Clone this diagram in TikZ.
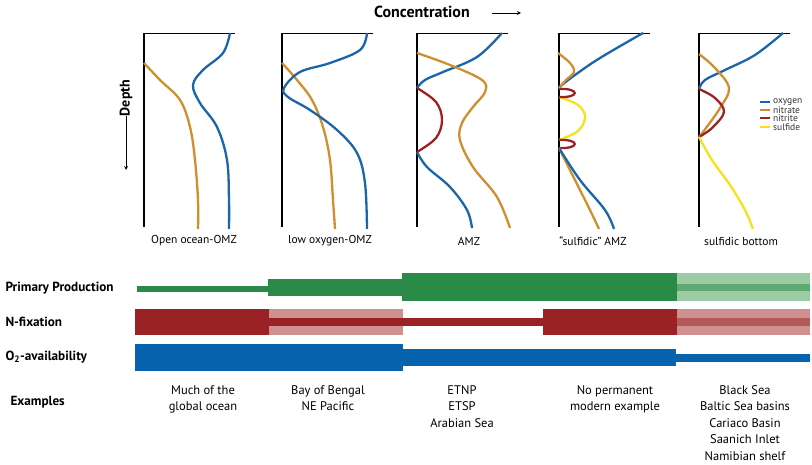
\documentclass[tikz,border=0pt]{standalone}
\usepackage{fontspec}
\setmainfont{PT Sans}
\begin{document}
\begin{tikzpicture}[x=1pt,y=-1pt,
  axisline/.style={line width=1.4pt,black},
  curve/.style={line width=2.3pt,smooth,tension=0.6},
  oxy/.style={curve,draw=oxyc},
  nitra/.style={curve,draw=nitrac},
  nitri/.style={curve,draw=nitric},
  sulf/.style={curve,draw=sulfc},
  plabel/.style={font=\fontsize{11.5}{13}\selectfont,anchor=center},
  rowlabel/.style={font=\fontsize{13.2}{15}\selectfont\bfseries,anchor=west},
  extext/.style={font=\fontsize{12.5}{16.5}\selectfont,align=center,anchor=north},
  legtext/.style={font=\fontsize{9.5}{10}\selectfont,anchor=west,inner sep=0pt,text=black!80}
]
\definecolor{oxyc}{HTML}{1B65AB}
\definecolor{nitrac}{HTML}{D08E2F}
\definecolor{nitric}{HTML}{9A2326}
\definecolor{sulfc}{HTML}{F7E11E}
\definecolor{gdark}{HTML}{2A8B48}
\definecolor{glight}{HTML}{9CCBA4}
\definecolor{gmid}{HTML}{5FA872}
\definecolor{rdark}{HTML}{9A2124}
\definecolor{rlight}{HTML}{D09090}
\definecolor{rmid}{HTML}{B35A5B}
\definecolor{bdark}{HTML}{0863AE}
\useasboundingbox (0,0) rectangle (812,465);

% header
\node[font=\fontsize{16}{18}\selectfont\bfseries] (conc) at (422,12) {Concentration};
\coordinate (ca) at (492,13);
\coordinate (cb) at (521,13);
\draw[-stealth,line width=0.8pt] (ca) -- (cb);
\node[font=\fontsize{14}{16}\selectfont\bfseries,rotate=90] (depth) at (126,98) {Depth};
\coordinate (da) at (126,116);
\coordinate (db) at (126,170);
\draw[-stealth,line width=0.8pt] (da) -- (db);

% axes
\foreach \x/\n in {144/1,282/2,417/3,559/4,699/5}{
  \draw[axisline] (\x+91,33.5) -- (\x,33.5) -- (\x,227);
}

% panel 1
\draw[nitra] plot coordinates {(144,63) (160,80) (180,100) (190,127) (195,160) (198,200) (198,229)};
\draw[oxy] plot coordinates {(230,33) (223,53) (203,70) (193,85) (200,103) (217,127) (227,160) (229,200) (229,229)};
% panel 2
\draw[nitra] plot coordinates {(282,63) (297,80) (312,100) (323,127) (330,160) (333,200) (335,229)};
\draw[oxy] plot coordinates {(367,33) (360,50) (330,63) (300,72) (284,88) (288,97) (310,110) (337,130) (357,153) (365,183) (367,229)};
% panel 3
\draw[oxy] plot coordinates {(502,33) (477,57) (443,72) (425,80) (417,88)};
\draw[oxy] plot coordinates {(417,152) (427,167) (450,187) (467,210) (472,228)};
\draw[nitri] plot coordinates {(417,88) (436,102) (442,120) (436,138) (417,152)};
\draw[nitra] plot coordinates {(417,53) (450,65) (482,80) (485,92) (473,107) (462,123) (460,140) (473,167) (497,197) (510,228)};
% panel 4
\draw[oxy] plot coordinates {(643,33) (600,58) (575,75) (562,85) (559,89)};
\draw[nitra] plot coordinates {(558,53) (570,63) (574,72) (566,80) (559,88)};
\draw[sulf] plot coordinates {(559,97) (578,105) (585,117) (578,131) (559,140)};
\draw[nitri] (559,89) .. controls (580,88) and (580,98) .. (559,97);
\draw[nitri] (559,140) .. controls (580,139) and (580,149) .. (559,148);
\draw[nitra] plot coordinates {(559,148) (575,180) (590,210) (599,229)};
\draw[oxy] plot coordinates {(559,148) (580,180) (605,210) (614,229)};
% panel 5
\draw[oxy] plot coordinates {(783,33) (755,55) (725,70) (705,80) (699,89)};
\draw[nitra] plot coordinates {(699,54) (715,68) (729,88) (720,108) (706,128) (699,137)};
\draw[nitri] plot coordinates {(699,89) (715,98) (724,112) (712,128) (699,137)};
\draw[sulf] plot coordinates {(699,137) (712,160) (730,185) (745,210) (753,229)};

% legend
\foreach \yy/\c/\t/\n in {102/oxyc/oxygen/lo,110/nitrac/nitrate/ln,118/nitric/nitrite/li,127/sulfc/sulfide/ls}{
  \draw[\c,line width=2.2pt] (760,\yy) -- (770,\yy);
  \node[legtext] (\n) at (773,\yy) {\t};
}

% panel labels
\node[plabel] (l1) at (194,241) {Open ocean-OMZ};
\node[plabel] (l2) at (330,241) {low oxygen-OMZ};
\node[plabel] (l3) at (469,241) {AMZ};
\node[plabel] (l4) at (593,241) {“sulfidic” AMZ};
\node[plabel] (l5) at (741,241) {sulfidic bottom};

% row labels
\node[rowlabel] (rpp) at (2,288) {Primary Production};
\node[rowlabel] (rnf) at (2,322) {N-fixation};
\node[rowlabel] (rox) at (2,357) {O\textsubscript{2}-availability};
\node[rowlabel] (rex) at (7,402) {Examples};

% primary production bar
\fill[gdark] (137,286) rectangle (268,292);
\fill[gdark] (268,279) rectangle (402,296);
\fill[gdark] (402,273.5) rectangle (677,301);
\fill[glight] (677,273.5) rectangle (810,301);
\fill[gmid] (677,284.5) rectangle (810,291);

% N-fixation bar
\fill[rdark] (135,309) rectangle (269,335);
\fill[rlight] (269,309) rectangle (403,335);
\fill[rdark] (269,318) rectangle (543,326);
\fill[rdark] (543,309) rectangle (677,335);
\fill[rlight] (677,309) rectangle (810,335);
\fill[rmid] (677,318) rectangle (810,326);

% O2 bar
\fill[bdark] (135,344.5) rectangle (403,371);
\fill[bdark] (403,349) rectangle (676,366);
\fill[bdark] (676,354) rectangle (810,361.5);

% examples
\node[extext] (e1) at (203,382) {Much of the\\global ocean};
\node[extext] (e2) at (328,382) {Bay of Bengal\\NE Pacific};
\node[extext] (e3) at (462,382) {ETNP\\ETSP\\Arabian Sea};
\node[extext] (e4) at (615,382) {No permanent\\modern example};
\node[extext] (e5) at (745,382) {Black Sea\\Baltic Sea basins\\Cariaco Basin\\Saanich Inlet\\Namibian shelf};
\end{tikzpicture}
\end{document}
